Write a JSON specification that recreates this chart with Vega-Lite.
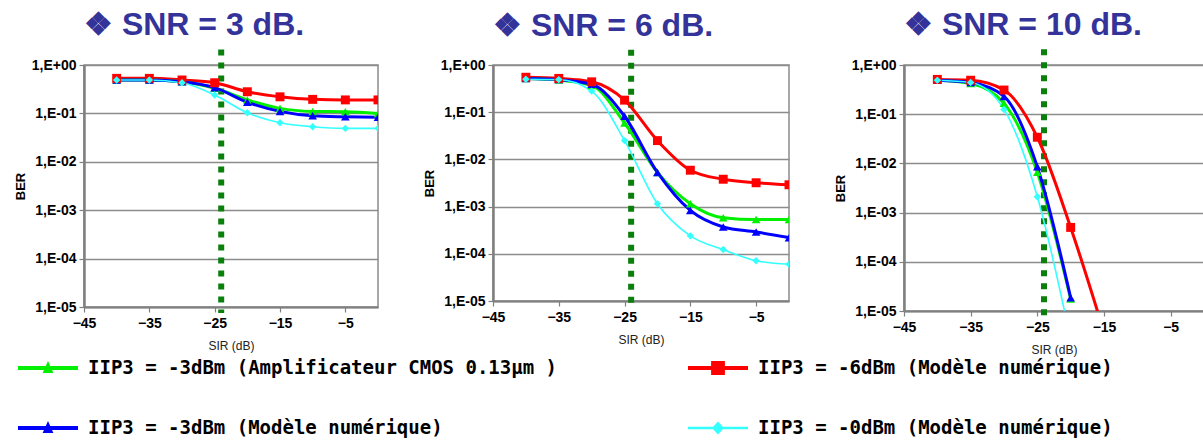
{
  "$schema": "https://vega.github.io/schema/vega-lite/v6.json",
  "background": "white",
  "padding": {"left": 13, "top": 8, "right": 0, "bottom": 0},
  "spacing": 43,
  "datasets": {
    "ber": [
      {"snr": 3, "serie": "IIP3 = -6dBm (Modèle numérique)", "sir": -40, "ber": 0.53},
      {"snr": 3, "serie": "IIP3 = -6dBm (Modèle numérique)", "sir": -35, "ber": 0.53},
      {"snr": 3, "serie": "IIP3 = -6dBm (Modèle numérique)", "sir": -30, "ber": 0.49},
      {"snr": 3, "serie": "IIP3 = -6dBm (Modèle numérique)", "sir": -25, "ber": 0.43},
      {"snr": 3, "serie": "IIP3 = -6dBm (Modèle numérique)", "sir": -20, "ber": 0.28},
      {"snr": 3, "serie": "IIP3 = -6dBm (Modèle numérique)", "sir": -15, "ber": 0.22},
      {"snr": 3, "serie": "IIP3 = -6dBm (Modèle numérique)", "sir": -10, "ber": 0.195},
      {"snr": 3, "serie": "IIP3 = -6dBm (Modèle numérique)", "sir": -5, "ber": 0.19},
      {"snr": 3, "serie": "IIP3 = -6dBm (Modèle numérique)", "sir": 0, "ber": 0.19},
      {"snr": 3, "serie": "IIP3 = -3dBm (Amplificateur CMOS 0.13µm )", "sir": -40, "ber": 0.49},
      {"snr": 3, "serie": "IIP3 = -3dBm (Amplificateur CMOS 0.13µm )", "sir": -35, "ber": 0.49},
      {"snr": 3, "serie": "IIP3 = -3dBm (Amplificateur CMOS 0.13µm )", "sir": -30, "ber": 0.45},
      {"snr": 3, "serie": "IIP3 = -3dBm (Amplificateur CMOS 0.13µm )", "sir": -25, "ber": 0.33},
      {"snr": 3, "serie": "IIP3 = -3dBm (Amplificateur CMOS 0.13µm )", "sir": -20, "ber": 0.19},
      {"snr": 3, "serie": "IIP3 = -3dBm (Amplificateur CMOS 0.13µm )", "sir": -15, "ber": 0.127},
      {"snr": 3, "serie": "IIP3 = -3dBm (Amplificateur CMOS 0.13µm )", "sir": -10, "ber": 0.11},
      {"snr": 3, "serie": "IIP3 = -3dBm (Amplificateur CMOS 0.13µm )", "sir": -5, "ber": 0.108},
      {"snr": 3, "serie": "IIP3 = -3dBm (Amplificateur CMOS 0.13µm )", "sir": 0, "ber": 0.1},
      {"snr": 3, "serie": "IIP3 = -3dBm (Modèle numérique)", "sir": -40, "ber": 0.49},
      {"snr": 3, "serie": "IIP3 = -3dBm (Modèle numérique)", "sir": -35, "ber": 0.49},
      {"snr": 3, "serie": "IIP3 = -3dBm (Modèle numérique)", "sir": -30, "ber": 0.45},
      {"snr": 3, "serie": "IIP3 = -3dBm (Modèle numérique)", "sir": -25, "ber": 0.34},
      {"snr": 3, "serie": "IIP3 = -3dBm (Modèle numérique)", "sir": -20, "ber": 0.17},
      {"snr": 3, "serie": "IIP3 = -3dBm (Modèle numérique)", "sir": -15, "ber": 0.11},
      {"snr": 3, "serie": "IIP3 = -3dBm (Modèle numérique)", "sir": -10, "ber": 0.089},
      {"snr": 3, "serie": "IIP3 = -3dBm (Modèle numérique)", "sir": -5, "ber": 0.085},
      {"snr": 3, "serie": "IIP3 = -3dBm (Modèle numérique)", "sir": 0, "ber": 0.083},
      {"snr": 3, "serie": "IIP3 = -0dBm (Modèle numérique)", "sir": -40, "ber": 0.49},
      {"snr": 3, "serie": "IIP3 = -0dBm (Modèle numérique)", "sir": -35, "ber": 0.49},
      {"snr": 3, "serie": "IIP3 = -0dBm (Modèle numérique)", "sir": -30, "ber": 0.43},
      {"snr": 3, "serie": "IIP3 = -0dBm (Modèle numérique)", "sir": -25, "ber": 0.24},
      {"snr": 3, "serie": "IIP3 = -0dBm (Modèle numérique)", "sir": -20, "ber": 0.103},
      {"snr": 3, "serie": "IIP3 = -0dBm (Modèle numérique)", "sir": -15, "ber": 0.064},
      {"snr": 3, "serie": "IIP3 = -0dBm (Modèle numérique)", "sir": -10, "ber": 0.053},
      {"snr": 3, "serie": "IIP3 = -0dBm (Modèle numérique)", "sir": -5, "ber": 0.049},
      {"snr": 3, "serie": "IIP3 = -0dBm (Modèle numérique)", "sir": 0, "ber": 0.049},

      {"snr": 6, "serie": "IIP3 = -6dBm (Modèle numérique)", "sir": -40, "ber": 0.55},
      {"snr": 6, "serie": "IIP3 = -6dBm (Modèle numérique)", "sir": -35, "ber": 0.52},
      {"snr": 6, "serie": "IIP3 = -6dBm (Modèle numérique)", "sir": -30, "ber": 0.44},
      {"snr": 6, "serie": "IIP3 = -6dBm (Modèle numérique)", "sir": -25, "ber": 0.18},
      {"snr": 6, "serie": "IIP3 = -6dBm (Modèle numérique)", "sir": -20, "ber": 0.025},
      {"snr": 6, "serie": "IIP3 = -6dBm (Modèle numérique)", "sir": -15, "ber": 0.0059},
      {"snr": 6, "serie": "IIP3 = -6dBm (Modèle numérique)", "sir": -10, "ber": 0.0038},
      {"snr": 6, "serie": "IIP3 = -6dBm (Modèle numérique)", "sir": -5, "ber": 0.0032},
      {"snr": 6, "serie": "IIP3 = -6dBm (Modèle numérique)", "sir": 0, "ber": 0.0029},
      {"snr": 6, "serie": "IIP3 = -3dBm (Amplificateur CMOS 0.13µm )", "sir": -40, "ber": 0.52},
      {"snr": 6, "serie": "IIP3 = -3dBm (Amplificateur CMOS 0.13µm )", "sir": -35, "ber": 0.48},
      {"snr": 6, "serie": "IIP3 = -3dBm (Amplificateur CMOS 0.13µm )", "sir": -30, "ber": 0.37},
      {"snr": 6, "serie": "IIP3 = -3dBm (Amplificateur CMOS 0.13µm )", "sir": -25, "ber": 0.059},
      {"snr": 6, "serie": "IIP3 = -3dBm (Amplificateur CMOS 0.13µm )", "sir": -20, "ber": 0.0053},
      {"snr": 6, "serie": "IIP3 = -3dBm (Amplificateur CMOS 0.13µm )", "sir": -15, "ber": 0.00115},
      {"snr": 6, "serie": "IIP3 = -3dBm (Amplificateur CMOS 0.13µm )", "sir": -10, "ber": 0.00058},
      {"snr": 6, "serie": "IIP3 = -3dBm (Amplificateur CMOS 0.13µm )", "sir": -5, "ber": 0.00053},
      {"snr": 6, "serie": "IIP3 = -3dBm (Amplificateur CMOS 0.13µm )", "sir": 0, "ber": 0.00053},
      {"snr": 6, "serie": "IIP3 = -3dBm (Modèle numérique)", "sir": -40, "ber": 0.52},
      {"snr": 6, "serie": "IIP3 = -3dBm (Modèle numérique)", "sir": -35, "ber": 0.49},
      {"snr": 6, "serie": "IIP3 = -3dBm (Modèle numérique)", "sir": -30, "ber": 0.39},
      {"snr": 6, "serie": "IIP3 = -3dBm (Modèle numérique)", "sir": -25, "ber": 0.082},
      {"snr": 6, "serie": "IIP3 = -3dBm (Modèle numérique)", "sir": -20, "ber": 0.0053},
      {"snr": 6, "serie": "IIP3 = -3dBm (Modèle numérique)", "sir": -15, "ber": 0.00083},
      {"snr": 6, "serie": "IIP3 = -3dBm (Modèle numérique)", "sir": -10, "ber": 0.00037},
      {"snr": 6, "serie": "IIP3 = -3dBm (Modèle numérique)", "sir": -5, "ber": 0.00029},
      {"snr": 6, "serie": "IIP3 = -3dBm (Modèle numérique)", "sir": 0, "ber": 0.00022},
      {"snr": 6, "serie": "IIP3 = -0dBm (Modèle numérique)", "sir": -40, "ber": 0.5},
      {"snr": 6, "serie": "IIP3 = -0dBm (Modèle numérique)", "sir": -35, "ber": 0.49},
      {"snr": 6, "serie": "IIP3 = -0dBm (Modèle numérique)", "sir": -30, "ber": 0.28},
      {"snr": 6, "serie": "IIP3 = -0dBm (Modèle numérique)", "sir": -25, "ber": 0.025},
      {"snr": 6, "serie": "IIP3 = -0dBm (Modèle numérique)", "sir": -20, "ber": 0.00115},
      {"snr": 6, "serie": "IIP3 = -0dBm (Modèle numérique)", "sir": -15, "ber": 0.00024},
      {"snr": 6, "serie": "IIP3 = -0dBm (Modèle numérique)", "sir": -10, "ber": 0.000123},
      {"snr": 6, "serie": "IIP3 = -0dBm (Modèle numérique)", "sir": -5, "ber": 0.0000713},
      {"snr": 6, "serie": "IIP3 = -0dBm (Modèle numérique)", "sir": 0, "ber": 0.00006},

      {"snr": 10, "serie": "IIP3 = -6dBm (Modèle numérique)", "sir": -40, "ber": 0.51},
      {"snr": 10, "serie": "IIP3 = -6dBm (Modèle numérique)", "sir": -35, "ber": 0.49},
      {"snr": 10, "serie": "IIP3 = -6dBm (Modèle numérique)", "sir": -30, "ber": 0.31},
      {"snr": 10, "serie": "IIP3 = -6dBm (Modèle numérique)", "sir": -25, "ber": 0.034},
      {"snr": 10, "serie": "IIP3 = -6dBm (Modèle numérique)", "sir": -20, "ber": 0.0005},
      {"snr": 10, "serie": "IIP3 = -6dBm (Modèle numérique)", "sir": -15, "ber": 0.0000037},
      {"snr": 10, "serie": "IIP3 = -3dBm (Amplificateur CMOS 0.13µm )", "sir": -40, "ber": 0.49},
      {"snr": 10, "serie": "IIP3 = -3dBm (Amplificateur CMOS 0.13µm )", "sir": -35, "ber": 0.42},
      {"snr": 10, "serie": "IIP3 = -3dBm (Amplificateur CMOS 0.13µm )", "sir": -30, "ber": 0.166},
      {"snr": 10, "serie": "IIP3 = -3dBm (Amplificateur CMOS 0.13µm )", "sir": -25, "ber": 0.0066},
      {"snr": 10, "serie": "IIP3 = -3dBm (Amplificateur CMOS 0.13µm )", "sir": -20, "ber": 0.0000175},
      {"snr": 10, "serie": "IIP3 = -3dBm (Modèle numérique)", "sir": -40, "ber": 0.49},
      {"snr": 10, "serie": "IIP3 = -3dBm (Modèle numérique)", "sir": -35, "ber": 0.44},
      {"snr": 10, "serie": "IIP3 = -3dBm (Modèle numérique)", "sir": -30, "ber": 0.23},
      {"snr": 10, "serie": "IIP3 = -3dBm (Modèle numérique)", "sir": -25, "ber": 0.0085},
      {"snr": 10, "serie": "IIP3 = -3dBm (Modèle numérique)", "sir": -20, "ber": 0.0000186},
      {"snr": 10, "serie": "IIP3 = -0dBm (Modèle numérique)", "sir": -40, "ber": 0.49},
      {"snr": 10, "serie": "IIP3 = -0dBm (Modèle numérique)", "sir": -35, "ber": 0.44},
      {"snr": 10, "serie": "IIP3 = -0dBm (Modèle numérique)", "sir": -30, "ber": 0.125},
      {"snr": 10, "serie": "IIP3 = -0dBm (Modèle numérique)", "sir": -25, "ber": 0.0021},
      {"snr": 10, "serie": "IIP3 = -0dBm (Modèle numérique)", "sir": -20, "ber": 0.0000026}
    ],
    "seuil": [{"sir": -24, "haut": 2.1, "bas": 0.0000075}]
  },
  "data": {"name": "ber"},
  "hconcat": [
    {
      "width": 294, "height": 242,
      "title": {"text": "❖ SNR = 3 dB."},
      "layer": [
        {"data": {"name": "seuil"}, "mark": {"type": "rule", "color": "#0b7f0b", "strokeWidth": 6, "strokeDash": [6, 7], "strokeCap": "butt"},
         "encoding": {"x": {"field": "sir", "type": "quantitative", "scale": {"domain": [-45, 0], "nice": false, "zero": false}, "title": "SIR (dB)",
                        "axis": {"values": [-45, -35, -25, -15, -5], "labelOverlap": false, "labelFlush": false}},
                      "y": {"field": "haut", "type": "quantitative", "scale": {"type": "log", "domain": [0.00001, 1], "nice": false}, "title": "BER",
                        "axis": {"values": [0.00001, 0.0001, 0.001, 0.01, 0.1, 1], "labelExpr": "'1,E' + (datum.value >= 1 ? '+00' : '-0' + round(-log(datum.value) / LN10))"}},
                      "y2": {"field": "bas"}}},
        {"transform": [{"filter": "datum.snr == 3 && indexof(datum.serie, '-0dBm') < 0"}], "mark": {"type": "line", "interpolate": "monotone", "clip": true, "strokeWidth": 3},
         "encoding": {
           "x": {"field": "sir", "type": "quantitative"},
           "y": {"field": "ber", "type": "quantitative"},
           "color": {"field": "serie", "type": "nominal",
             "scale": {"domain": ["IIP3 = -3dBm (Amplificateur CMOS 0.13µm )", "IIP3 = -6dBm (Modèle numérique)", "IIP3 = -3dBm (Modèle numérique)", "IIP3 = -0dBm (Modèle numérique)"], "range": ["#00f000", "#ff0000", "#0000ff", "#33ffff"]},
             "legend": {
               "orient": "none", "legendX": -66, "legendY": 273, "columns": 2, "direction": "horizontal", "columnPadding": 131, "rowPadding": 20,
               "title": null, "symbolSize": 3600, "labelOffset": 10,
               "labelFont": "DejaVu Sans Mono", "labelFontSize": 19, "labelFontWeight": "bold", "labelColor": "black", "labelLimit": 800,
               "symbolType": "M-1,-0.067L1,-0.067L1,0.067L-1,0.067Z M0,-0.23L0.18,0.17L-0.18,0.17Z",
               "symbolStrokeWidth": 0,
               "encode": {"symbols": {"update": {
                 "shape": {"signal": "indexof(datum.value, '-6dBm') >= 0 ? 'M-1,-0.067L1,-0.067L1,0.067L-1,0.067Z M-0.23,-0.23L0.23,-0.23L0.23,0.23L-0.23,0.23Z' : indexof(datum.value, '-0dBm') >= 0 ? 'M-1,-0.045L1,-0.045L1,0.045L-1,0.045Z M0,-0.22L0.2,0L0,0.22L-0.2,0Z' : 'M-1,-0.067L1,-0.067L1,0.067L-1,0.067Z M0,-0.23L0.18,0.17L-0.18,0.17Z'"},
                 "fill": {"signal": "scale('color', datum.value)"},
                 "stroke": {"value": "transparent"},
                 "strokeWidth": {"value": 0},
                 "opacity": {"value": 1}}}}
             }}}},
        {"transform": [{"filter": "datum.snr == 3 && indexof(datum.serie, '-0dBm') >= 0"}], "mark": {"type": "line", "interpolate": "monotone", "clip": true, "strokeWidth": 1.6},
         "encoding": {"x": {"field": "sir", "type": "quantitative"}, "y": {"field": "ber", "type": "quantitative"}, "color": {"field": "serie", "type": "nominal"}}},
        {"transform": [{"filter": "datum.snr == 3 && indexof(datum.serie, '-3dBm') >= 0"}], "mark": {"type": "point", "shape": "triangle-up", "size": 75, "filled": true, "opacity": 1, "clip": true},
         "encoding": {"x": {"field": "sir", "type": "quantitative"}, "y": {"field": "ber", "type": "quantitative"}, "color": {"field": "serie", "type": "nominal"}}},
        {"transform": [{"filter": "datum.snr == 3 && indexof(datum.serie, '-6dBm') >= 0"}], "mark": {"type": "point", "shape": "square", "size": 80, "filled": true, "opacity": 1, "clip": true},
         "encoding": {"x": {"field": "sir", "type": "quantitative"}, "y": {"field": "ber", "type": "quantitative"}, "color": {"field": "serie", "type": "nominal"}}},
        {"transform": [{"filter": "datum.snr == 3 && indexof(datum.serie, '-0dBm') >= 0"}], "mark": {"type": "point", "shape": "diamond", "size": 55, "filled": true, "opacity": 1, "clip": true},
         "encoding": {"x": {"field": "sir", "type": "quantitative"}, "y": {"field": "ber", "type": "quantitative"}, "color": {"field": "serie", "type": "nominal"}}}
      ]
    },
    {
      "width": 296, "height": 236,
      "title": {"text": "❖ SNR = 6 dB."},
      "layer": [
        {"data": {"name": "seuil"}, "mark": {"type": "rule", "color": "#0b7f0b", "strokeWidth": 6, "strokeDash": [6, 7], "strokeCap": "butt"},
         "encoding": {"x": {"field": "sir", "type": "quantitative", "scale": {"domain": [-45, 0], "nice": false, "zero": false}, "title": "SIR (dB)",
                        "axis": {"values": [-45, -35, -25, -15, -5], "labelOverlap": false, "labelFlush": false}},
                      "y": {"field": "haut", "type": "quantitative", "scale": {"type": "log", "domain": [0.00001, 1], "nice": false}, "title": "BER",
                        "axis": {"values": [0.00001, 0.0001, 0.001, 0.01, 0.1, 1], "labelExpr": "'1,E' + (datum.value >= 1 ? '+00' : '-0' + round(-log(datum.value) / LN10))"}},
                      "y2": {"field": "bas"}}},
        {"transform": [{"filter": "datum.snr == 6 && indexof(datum.serie, '-0dBm') < 0"}], "mark": {"type": "line", "interpolate": "monotone", "clip": true, "strokeWidth": 3},
         "encoding": {"x": {"field": "sir", "type": "quantitative"}, "y": {"field": "ber", "type": "quantitative"}, "color": {"field": "serie", "type": "nominal"}}},
        {"transform": [{"filter": "datum.snr == 6 && indexof(datum.serie, '-0dBm') >= 0"}], "mark": {"type": "line", "interpolate": "monotone", "clip": true, "strokeWidth": 1.6},
         "encoding": {"x": {"field": "sir", "type": "quantitative"}, "y": {"field": "ber", "type": "quantitative"}, "color": {"field": "serie", "type": "nominal"}}},
        {"transform": [{"filter": "datum.snr == 6 && indexof(datum.serie, '-3dBm') >= 0"}], "mark": {"type": "point", "shape": "triangle-up", "size": 75, "filled": true, "opacity": 1, "clip": true},
         "encoding": {"x": {"field": "sir", "type": "quantitative"}, "y": {"field": "ber", "type": "quantitative"}, "color": {"field": "serie", "type": "nominal"}}},
        {"transform": [{"filter": "datum.snr == 6 && indexof(datum.serie, '-6dBm') >= 0"}], "mark": {"type": "point", "shape": "square", "size": 80, "filled": true, "opacity": 1, "clip": true},
         "encoding": {"x": {"field": "sir", "type": "quantitative"}, "y": {"field": "ber", "type": "quantitative"}, "color": {"field": "serie", "type": "nominal"}}},
        {"transform": [{"filter": "datum.snr == 6 && indexof(datum.serie, '-0dBm') >= 0"}], "mark": {"type": "point", "shape": "diamond", "size": 55, "filled": true, "opacity": 1, "clip": true},
         "encoding": {"x": {"field": "sir", "type": "quantitative"}, "y": {"field": "ber", "type": "quantitative"}, "color": {"field": "serie", "type": "nominal"}}}
      ]
    },
    {
      "width": 300, "height": 246,
      "title": {"text": "❖ SNR = 10 dB."},
      "layer": [
        {"data": {"name": "seuil"}, "mark": {"type": "rule", "color": "#0b7f0b", "strokeWidth": 6, "strokeDash": [6, 7], "strokeCap": "butt"},
         "encoding": {"x": {"field": "sir", "type": "quantitative", "scale": {"domain": [-45, 0], "nice": false, "zero": false}, "title": "SIR (dB)",
                        "axis": {"values": [-45, -35, -25, -15, -5], "labelOverlap": false, "labelFlush": false}},
                      "y": {"field": "haut", "type": "quantitative", "scale": {"type": "log", "domain": [0.00001, 1], "nice": false}, "title": "BER",
                        "axis": {"values": [0.00001, 0.0001, 0.001, 0.01, 0.1, 1], "labelExpr": "'1,E' + (datum.value >= 1 ? '+00' : '-0' + round(-log(datum.value) / LN10))"}},
                      "y2": {"field": "bas"}}},
        {"transform": [{"filter": "datum.snr == 10 && indexof(datum.serie, '-0dBm') < 0"}], "mark": {"type": "line", "interpolate": "monotone", "clip": true, "strokeWidth": 3},
         "encoding": {"x": {"field": "sir", "type": "quantitative"}, "y": {"field": "ber", "type": "quantitative"}, "color": {"field": "serie", "type": "nominal"}}},
        {"transform": [{"filter": "datum.snr == 10 && indexof(datum.serie, '-0dBm') >= 0"}], "mark": {"type": "line", "interpolate": "monotone", "clip": true, "strokeWidth": 1.6},
         "encoding": {"x": {"field": "sir", "type": "quantitative"}, "y": {"field": "ber", "type": "quantitative"}, "color": {"field": "serie", "type": "nominal"}}},
        {"transform": [{"filter": "datum.snr == 10 && indexof(datum.serie, '-3dBm') >= 0"}], "mark": {"type": "point", "shape": "triangle-up", "size": 75, "filled": true, "opacity": 1, "clip": true},
         "encoding": {"x": {"field": "sir", "type": "quantitative"}, "y": {"field": "ber", "type": "quantitative"}, "color": {"field": "serie", "type": "nominal"}}},
        {"transform": [{"filter": "datum.snr == 10 && indexof(datum.serie, '-6dBm') >= 0"}], "mark": {"type": "point", "shape": "square", "size": 80, "filled": true, "opacity": 1, "clip": true},
         "encoding": {"x": {"field": "sir", "type": "quantitative"}, "y": {"field": "ber", "type": "quantitative"}, "color": {"field": "serie", "type": "nominal"}}},
        {"transform": [{"filter": "datum.snr == 10 && indexof(datum.serie, '-0dBm') >= 0"}], "mark": {"type": "point", "shape": "diamond", "size": 55, "filled": true, "opacity": 1, "clip": true},
         "encoding": {"x": {"field": "sir", "type": "quantitative"}, "y": {"field": "ber", "type": "quantitative"}, "color": {"field": "serie", "type": "nominal"}}}
      ]
    }
  ],
  "resolve": {"scale": {"x": "independent", "y": "independent"}},
  "config": {
    "view": {"stroke": "#8c8c8c", "strokeWidth": 1.5},
    "title": {"font": "Liberation Sans", "fontSize": 32, "fontWeight": "bold", "color": "#333399", "anchor": "start", "frame": "group", "offset": 4},
    "axisX": {
      "titleFont": "Liberation Sans", "titleFontWeight": "normal", "titleFontSize": 12, "titleColor": "#222", "titlePadding": 10,
      "labelFont": "Liberation Sans", "labelFontWeight": "bold", "labelFontSize": 14, "labelColor": "black", "labelPadding": 4,
      "labelOverlap": false, "labelFlush": false,
      "domainColor": "#808080", "domainWidth": 2, "tickColor": "#808080", "tickSize": 5, "tickWidth": 1.2, "grid": false
    },
    "axisY": {
      "titleFont": "Liberation Sans", "titleFontWeight": "bold", "titleFontSize": 13, "titleColor": "black", "titlePadding": 4,
      "labelFont": "Liberation Sans", "labelFontWeight": "bold", "labelFontSize": 14, "labelColor": "black", "labelPadding": 3,
      "domainColor": "#808080", "domainWidth": 2.5, "tickColor": "#808080", "tickSize": 5, "tickWidth": 1.2,
      "gridColor": "#8c8c8c", "gridWidth": 1.3
    }
  }
}
